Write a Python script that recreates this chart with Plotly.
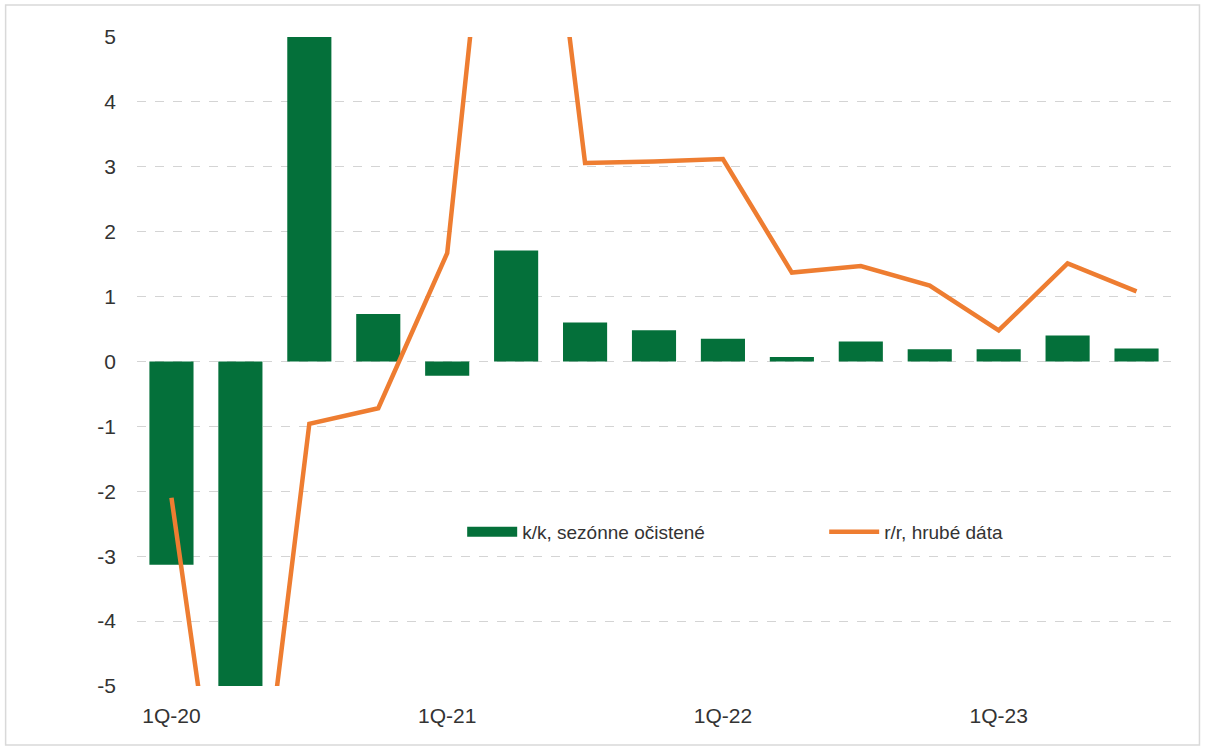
import plotly.graph_objects as go

quarters = ["1Q-20", "2Q-20", "3Q-20", "4Q-20",
            "1Q-21", "2Q-21", "3Q-21", "4Q-21",
            "1Q-22", "2Q-22", "3Q-22", "4Q-22",
            "1Q-23", "2Q-23", "3Q-23"]
kk_sa = [-3.13, -8.3, 9.5, 0.73, -0.22, 1.71, 0.60, 0.48, 0.35, 0.07, 0.31, 0.19, 0.19, 0.40, 0.20]
rr_raw = [-2.1, -9.6, -0.96, -0.72, 1.67, 11.7, 3.06, 3.08, 3.12, 1.37, 1.47, 1.17, 0.48, 1.51, 1.08]
tick_labels = ["1Q-20", "1Q-21", "1Q-22", "1Q-23"]
y_ticks = [-5, -4, -3, -2, -1, 0, 1, 2, 3, 4, 5]
y_tick_text = [str(v) for v in y_ticks]

GREEN = "#04703A"
ORANGE = "#EE7D31"
FONT = "Liberation Sans, Arial, sans-serif"

fig = go.Figure()
fig.add_trace(go.Bar(x=quarters, y=kk_sa, marker=dict(color=GREEN, line=dict(width=0)),
                     width=0.64, showlegend=False, name="k/k, sezónne očistené"))
# legend entry for bars (wide swatch)
fig.add_trace(go.Scatter(x=[None], y=[None], mode="lines", line=dict(color=GREEN, width=14),
                         name="k/k, sezónne očistené", showlegend=True))
fig.add_trace(go.Scatter(x=quarters, y=rr_raw, mode="lines", line=dict(color=ORANGE, width=4.5),
                         name="r/r, hrubé dáta"))

L, R, T, B = 136.5, 36.5, 37, 68
W, H = 1208, 754
pw, ph = W - L - R, H - T - B

fig.update_layout(
    width=W, height=H,
    margin=dict(l=L, r=R, t=T, b=B),
    paper_bgcolor="white", plot_bgcolor="white",
    font=dict(family=FONT, color="#333333"),
    legend=dict(orientation="h", x=(462 - L) / pw, y=(H - B - 532) / ph,
                xanchor="left", yanchor="middle", itemwidth=50,
                entrywidth=297, entrywidthmode="pixels",
                font=dict(size=19, color="#333333", family=FONT),
                bgcolor="rgba(0,0,0,0)"),
    xaxis=dict(type="category", categoryorder="array", categoryarray=quarters,
               tickmode="array", tickvals=tick_labels, ticktext=tick_labels,
               tickfont=dict(size=21, color="#333333"), showgrid=False,
               showline=False, ticks="", ticklen=0, ticklabelstandoff=15),
    yaxis=dict(range=[-5, 5], tickmode="array", tickvals=y_ticks, ticktext=y_tick_text,
               tickfont=dict(size=21, color="#333333"),
               showgrid=True, gridcolor="#d4d4d4", griddash="dash", gridwidth=1,
               zeroline=False, showline=False, ticks="", ticklabelstandoff=20),
    shapes=[dict(type="rect", xref="paper", yref="paper",
                 x0=(5 - L) / pw, x1=(1200 - L) / pw,
                 y0=(H - B - 745) / ph, y1=(H - B - 5) / ph,
                 line=dict(color="#d9d9d9", width=1.5), fillcolor="rgba(0,0,0,0)",
                 layer="below")],
)

fig.write_html("out.html")
